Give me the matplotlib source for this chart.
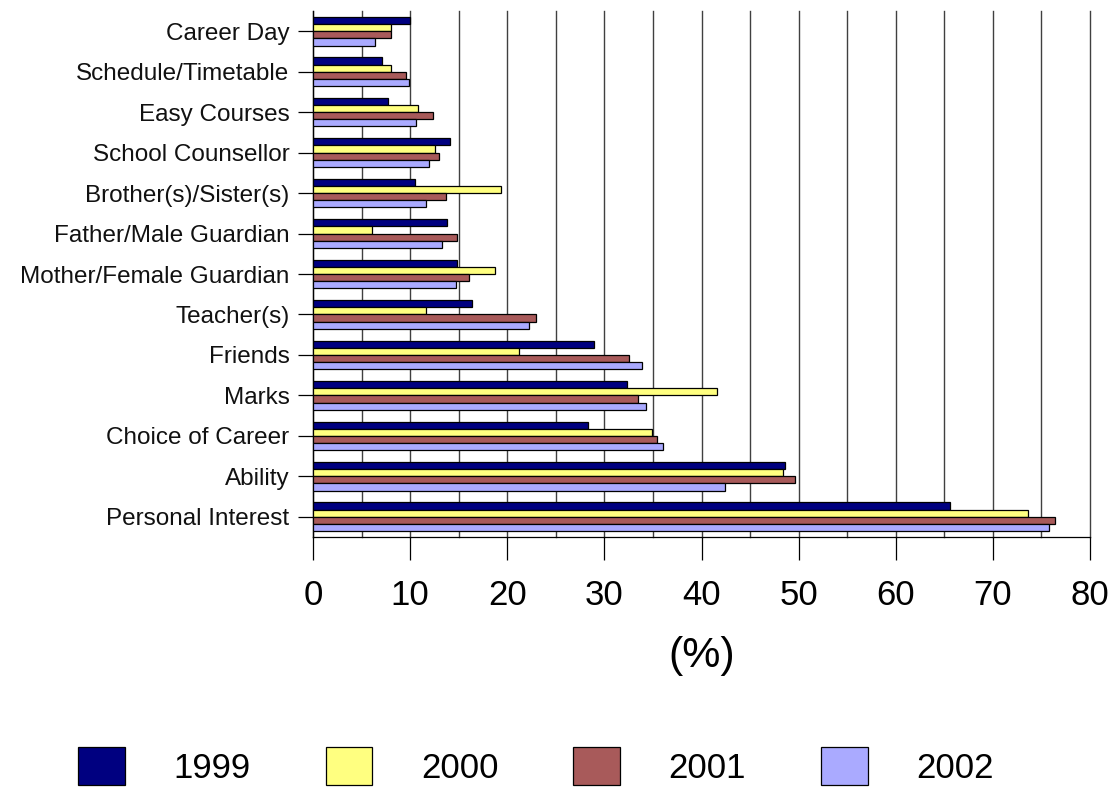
import matplotlib
matplotlib.use("Agg")
import matplotlib.pyplot as plt
import numpy as np

plt.rcParams['font.family'] = ['Liberation Sans', 'DejaVu Sans']

categories = ["Career Day", "Schedule/Timetable", "Easy Courses", "School Counsellor",
              "Brother(s)/Sister(s)", "Father/Male Guardian", "Mother/Female Guardian",
              "Teacher(s)", "Friends", "Marks", "Choice of Career", "Ability",
              "Personal Interest"]
years = ["1999", "2000", "2001", "2002"]
v1999 = [10.0, 7.1, 7.7, 14.1, 10.5, 13.8, 14.8, 16.4, 28.9, 32.3, 28.3, 48.6, 65.6]
v2000 = [8.0, 8.0, 10.8, 12.6, 19.4, 6.1, 18.7, 11.6, 21.2, 41.6, 34.9, 48.4, 73.6]
v2001 = [8.0, 9.6, 12.4, 13.0, 13.7, 14.8, 16.1, 23.0, 32.5, 33.5, 35.4, 49.6, 76.4]
v2002 = [6.4, 9.9, 10.6, 11.9, 11.6, 13.3, 14.7, 22.2, 33.9, 34.3, 36.0, 42.4, 75.8]
series = [v1999, v2000, v2001, v2002]
colors = ["#000080", "#FFFF80", "#A85A5A", "#AAAAFF"]

fig = plt.figure(figsize=(11.14, 7.89), dpi=100)
ax = fig.add_axes([313/1114, 1-537/789, (1090-313)/1114, (537-11)/789])

y = np.arange(len(categories))
h = 0.177
for i, (vals, col, yr) in enumerate(zip(series, colors, years)):
    ax.barh(y + (i - 1.5) * h, vals, height=h, color=col, edgecolor="black",
            linewidth=0.9, label=yr, zorder=3)

ax.set_ylim(len(categories) - 0.5, -0.5)
ax.set_xlim(0, 80)
ax.set_yticks(y)
ax.set_yticklabels(categories, fontsize=17.5, color="#111111")
ax.set_xticks(np.arange(0, 81, 10))
ax.set_xticks(np.arange(0, 81, 5), minor=True)
ax.tick_params(axis='x', which='major', length=16.5, width=0.9, direction='out',
               labelsize=25, pad=14)
ax.tick_params(axis='x', which='minor', length=0)
ax.tick_params(axis='y', length=11, width=0.9, direction='out', pad=6)
ax.grid(axis='x', which='both', color='#404040', linewidth=1.0, zorder=0)
for gl in ax.xaxis.get_gridlines() + ax.xaxis.get_minorticklines():
    gl.set_clip_on(False)
for tk in ax.xaxis.get_major_ticks() + ax.xaxis.get_minor_ticks():
    tk.gridline.set_clip_on(False)
ax.set_axisbelow(True)
for s in ['top', 'right']:
    ax.spines[s].set_visible(False)
for s in ['left', 'bottom']:
    ax.spines[s].set_linewidth(0.9)
ax.set_xlabel("(%)", fontsize=31, labelpad=17)

handles, labels = ax.get_legend_handles_labels()
fig.legend(handles, labels, loc='center', bbox_to_anchor=(536/1114, 1-766/789),
           ncol=4, frameon=False, fontsize=25, handlelength=1.35, handleheight=1.33,
           handletextpad=1.4, columnspacing=2.15, borderpad=0)

fig.savefig("out.png", dpi=100)
